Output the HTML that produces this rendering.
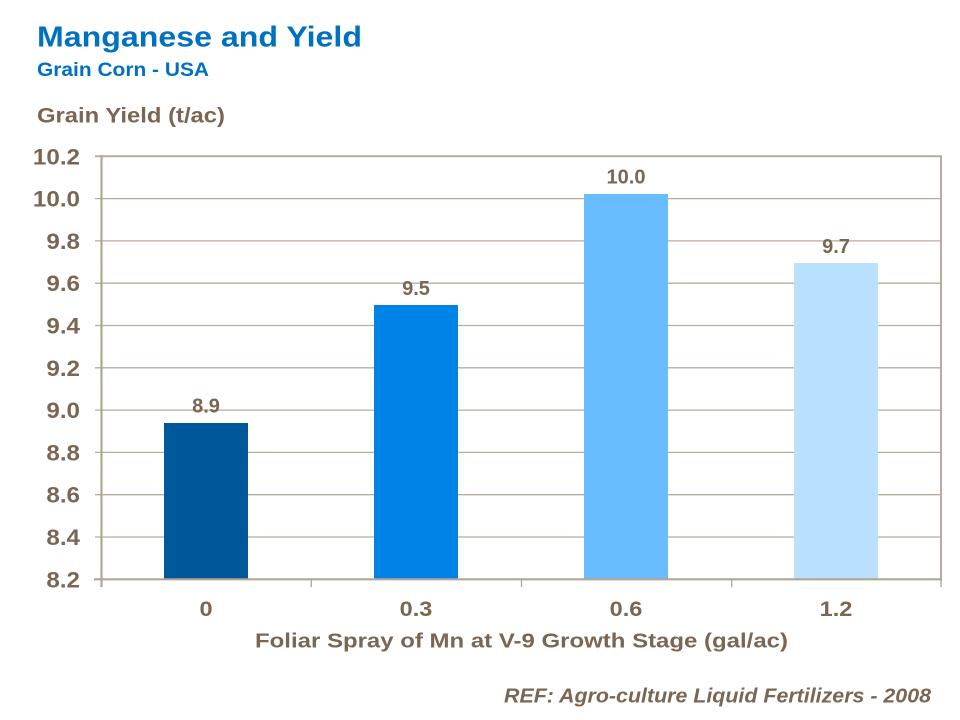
<!DOCTYPE html>
<html>
<head>
<meta charset="utf-8">
<style>
html,body{margin:0;padding:0;background:#fff;}
svg{display:block;}
text{font-family:"Liberation Sans",Arial,sans-serif;font-weight:bold;}
</style>
</head>
<body>
<svg width="960" height="720" viewBox="0 0 960 720" xmlns="http://www.w3.org/2000/svg">
  <rect width="960" height="720" fill="#fff"/>
  <!-- Titles -->
  <text x="37" y="46.5" font-size="29" fill="#0070C0" textLength="325" lengthAdjust="spacingAndGlyphs">Manganese and Yield</text>
  <text x="37" y="76" font-size="19" fill="#0070C0" textLength="172" lengthAdjust="spacingAndGlyphs">Grain Corn - USA</text>
  <text x="37" y="122.7" font-size="21" fill="#7A6652" textLength="188" lengthAdjust="spacingAndGlyphs">Grain Yield (t/ac)</text>

  <!-- gridlines -->
  <g stroke="#B8AC9F" stroke-width="1.3">
    <line x1="95" y1="537.0" x2="941" y2="537.0"/>
    <line x1="95" y1="494.7" x2="941" y2="494.7"/>
    <line x1="95" y1="452.4" x2="941" y2="452.4"/>
    <line x1="95" y1="410.1" x2="941" y2="410.1"/>
    <line x1="95" y1="367.8" x2="941" y2="367.8"/>
    <line x1="95" y1="325.5" x2="941" y2="325.5"/>
    <line x1="95" y1="283.2" x2="941" y2="283.2"/>
    <line x1="95" y1="240.9" x2="941" y2="240.9"/>
    <line x1="95" y1="198.6" x2="941" y2="198.6"/>
  </g>
  <!-- plot border top/right -->
  <g stroke="#B8AC9F" stroke-width="2" fill="none">
    <line x1="95" y1="156.3" x2="942" y2="156.3"/>
    <line x1="941" y1="156" x2="941" y2="580"/>
  </g>

  <!-- bars -->
  <rect x="164" y="423" width="84" height="156.3" fill="#00589A"/>
  <rect x="374" y="305" width="84" height="274.3" fill="#0083E6"/>
  <rect x="584" y="194" width="84" height="385.3" fill="#67BDFF"/>
  <rect x="794" y="263" width="84" height="316.3" fill="#B9E0FE"/>

  <!-- axes -->
  <g stroke="#B0A597" stroke-width="2.2" fill="none">
    <line x1="101.5" y1="155" x2="101.5" y2="587"/>
    <line x1="94" y1="579.3" x2="942" y2="579.3"/>
  </g>
  <g stroke="#B0A597" stroke-width="1.3">
    <line x1="311.3" y1="579" x2="311.3" y2="587"/>
    <line x1="521.5" y1="579" x2="521.5" y2="587"/>
    <line x1="731.8" y1="579" x2="731.8" y2="587"/>
    <line x1="941" y1="579" x2="941" y2="587"/>
  </g>

  <!-- y tick labels -->
  <g font-size="22" fill="#7A6652" text-anchor="end" transform="translate(80,0) scale(1.1,1) translate(-80,0)">
    <text x="80" y="164.3">10.2</text>
    <text x="80" y="206.6">10.0</text>
    <text x="80" y="248.9">9.8</text>
    <text x="80" y="291.2">9.6</text>
    <text x="80" y="333.5">9.4</text>
    <text x="80" y="375.8">9.2</text>
    <text x="80" y="418.1">9.0</text>
    <text x="80" y="460.4">8.8</text>
    <text x="80" y="502.7">8.6</text>
    <text x="80" y="545.0">8.4</text>
    <text x="80" y="587.3">8.2</text>
  </g>

  <!-- data labels -->
  <g font-size="20" fill="#7A6652" text-anchor="middle">
    <text x="206" y="412.5">8.9</text>
    <text x="416" y="294.8">9.5</text>
    <text x="626" y="183.5">10.0</text>
    <text x="836" y="253">9.7</text>
  </g>

  <!-- x tick labels -->
  <g font-size="21" fill="#7A6652" text-anchor="middle">
    <text x="206" y="616" transform="translate(206,0) scale(1.12,1) translate(-206,0)">0</text>
    <text x="416" y="616" transform="translate(416,0) scale(1.12,1) translate(-416,0)">0.3</text>
    <text x="626" y="616" transform="translate(626,0) scale(1.12,1) translate(-626,0)">0.6</text>
    <text x="836" y="616" transform="translate(836,0) scale(1.12,1) translate(-836,0)">1.2</text>
  </g>

  <!-- x axis title -->
  <text x="255" y="647.3" font-size="20.5" fill="#7A6652" textLength="533" lengthAdjust="spacingAndGlyphs">Foliar Spray of Mn at V-9 Growth Stage (gal/ac)</text>

  <!-- footer -->
  <text x="504" y="702.7" font-size="20" font-style="italic" fill="#7A6652" textLength="427" lengthAdjust="spacingAndGlyphs">REF: Agro-culture Liquid Fertilizers - 2008</text>
</svg>
</body>
</html>
